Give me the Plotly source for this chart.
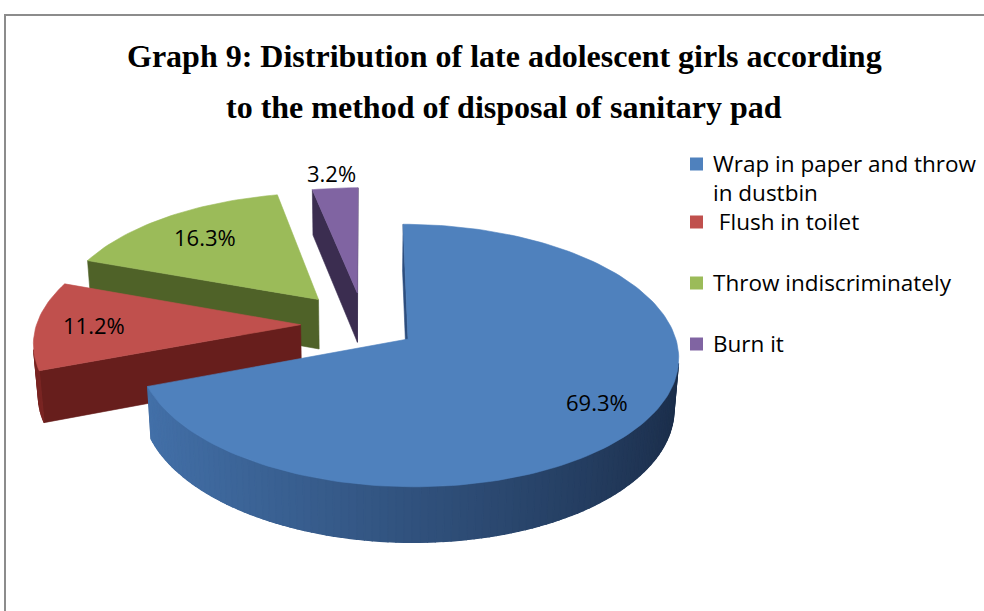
import numpy as np
import plotly.graph_objects as go

# ---- data ----
categories = ["Wrap in paper and throw in dustbin", "Flush in toilet",
              "Throw indiscriminately", "Burn it"]
legend_text = ["Wrap in paper and throw<br>in dustbin", "\u00a0Flush in toilet",
               "Throw indiscriminately", "Burn it"]
percent = [69.3, 11.2, 16.3, 3.2]

# ---- styles ----
top_colors = ["#4F81BD", "#C0504D", "#9BBB59", "#8064A2"]
side_light = ["#4472AB", "#7A2422", "#5A6F2E", "#4A3A60"]
side_dark = ["#1A2C48", "#561716", "#3E4D1F", "#2F2440"]
radial_colors = ["#2D4E7E", "#671E1C", "#4F6228", "#3B2D50"]
explode = [0.2, 0.24, 0.27, 0.26]      # pull-out, fraction of radius
label_r = [0.80, 0.78, 0.74, 1.17]     # label distance, fraction of radius

W, H = 984, 611
# 3D view of the pie (unit radius); projected into pixel space
CX, CY = 364.0, 324.5
FOCAL = 1872.0
DIST = 7.09
ELEV = np.radians(28.4)
THICK = 0.22
CA, SA = np.cos(ELEV), np.sin(ELEV)
CAM = np.array([0.0, -DIST * CA, DIST * SA])


def project(X, Y, Z):
    X, Y, Z = np.asarray(X, float), np.asarray(Y, float), np.asarray(Z, float)
    depth = DIST + Y * CA - Z * SA
    sy = Y * SA + Z * CA
    return CX + FOCAL * X / depth, CY - FOCAL * sy / depth


def depth_of(X, Y, Z):
    return DIST + Y * CA - Z * SA


def hex_rgb(h):
    h = h.lstrip("#")
    return np.array([int(h[i:i + 2], 16) for i in (0, 2, 4)], float)


def mix(c1, c2, t):
    a, b = hex_rgb(c1), hex_rgb(c2)
    c = a + (b - a) * t
    return "rgb(%d,%d,%d)" % tuple(np.clip(np.round(c), 0, 255))


def visible(normal, point):
    return float(np.dot(normal, CAM - point)) > 0


fig = go.Figure()


def poly(xs, ys, color, lw=0.6):
    fig.add_trace(go.Scatter(
        x=list(xs) + [xs[0]], y=list(ys) + [ys[0]], mode="lines",
        fill="toself", fillcolor=color, line=dict(color=color, width=lw),
        hoverinfo="skip", showlegend=False))


total = sum(percent)
angles = np.cumsum([0] + [p / total * 2 * np.pi for p in percent])

slices = []
for i, p in enumerate(percent):
    t0, t1 = angles[i], angles[i + 1]
    tm = (t0 + t1) / 2
    c = np.array([explode[i] * np.sin(tm), explode[i] * np.cos(tm), 0.0])
    slices.append((i, t0, t1, tm, c))

# paint back-to-front
slices.sort(key=lambda s: -depth_of(*s[4]))

for i, t0, t1, tm, c in slices:
    n = max(8, int(np.degrees(t1 - t0) / 1.5))
    th = np.linspace(t0, t1, n + 1)
    ax = c[0] + np.sin(th)
    ay = c[1] + np.cos(th)

    # radial side walls
    for t, sgn in ((t0, -1), (t1, 1)):
        normal = sgn * np.array([np.cos(t), -np.sin(t), 0.0])
        rim = c + np.array([np.sin(t), np.cos(t), 0.0])
        mid = (c + rim) / 2 - np.array([0, 0, THICK / 2])
        if visible(normal, mid):
            X = [c[0], rim[0], rim[0], c[0]]
            Y = [c[1], rim[1], rim[1], c[1]]
            Z = [0, 0, -THICK, -THICK]
            px, py = project(X, Y, Z)
            poly(px, py, radial_colors[i])

    # curved outer wall: one base band, then shaded strips on top
    vis = []
    for k in range(n):
        tmid = (th[k] + th[k + 1]) / 2
        normal = np.array([np.sin(tmid), np.cos(tmid), 0.0])
        pt = c + normal - np.array([0, 0, THICK / 2])
        if visible(normal, pt):
            vis.append((k, normal))
    if vis:
        ks = [k for k, _ in vis]
        idx = list(range(min(ks), max(ks) + 2))
        X = [ax[j] for j in idx] + [ax[j] for j in idx[::-1]]
        Y = [ay[j] for j in idx] + [ay[j] for j in idx[::-1]]
        Z = [0.0] * len(idx) + [-THICK] * len(idx)
        px, py = project(X, Y, Z)
        poly(px, py, mix(side_dark[i], side_light[i], 0.5), lw=0.5)
    vis.sort(key=lambda s: -depth_of(*(c + s[1])))
    for k, normal in vis:
        X = [ax[k], ax[k + 1], ax[k + 1], ax[k]]
        Y = [ay[k], ay[k + 1], ay[k + 1], ay[k]]
        Z = [0, 0, -THICK, -THICK]
        px, py = project(X, Y, Z)
        shade = ((1 - normal[0]) / 2) ** 0.9
        poly(px, py, mix(side_dark[i], side_light[i], shade), lw=1.2)

    # top face
    X = [c[0]] + list(ax)
    Y = [c[1]] + list(ay)
    px, py = project(X, Y, np.zeros(len(X)))
    poly(px, py, top_colors[i])

# value labels
annotations = []
for i, t0, t1, tm, c in slices:
    lx, ly = project(c[0] + label_r[i] * np.sin(tm), c[1] + label_r[i] * np.cos(tm), 0.0)
    annotations.append(dict(
        x=float(lx), y=float(ly), xref="x", yref="y", text=f"{percent[i]:.1f}%",
        showarrow=False, font=dict(family="Open Sans", size=22, color="black")))

# title
title_lines = ["Graph 9: Distribution of late adolescent girls according",
               "to the method of disposal of sanitary pad"]
for txt, yy in zip(title_lines, [56, 107]):
    annotations.append(dict(
        x=504, y=yy, xref="x", yref="y", text=f"<b>{txt}</b>", showarrow=False,
        font=dict(family="Liberation Serif", size=32, color="black")))

# legend
legend_y = [177.5, 221, 282, 343]
square_y = [164, 222, 283, 344]
shapes = []
for i in range(len(categories)):
    annotations.append(dict(
        x=711, y=legend_y[i], xref="x", yref="y", text=legend_text[i],
        showarrow=False, xanchor="left", yanchor="middle", align="left",
        font=dict(family="Open Sans", size=22.5, color="black")))
    shapes.append(dict(type="rect", xref="x", yref="y",
                       x0=690, x1=703, y0=square_y[i] - 6.5, y1=square_y[i] + 6.5,
                       fillcolor=top_colors[i], line=dict(width=0)))

# outer frame
shapes.append(dict(type="path", xref="x", yref="y",
                   path=f"M 5,{H} L 5,15 L {W},15",
                   line=dict(color="#8C8C8C", width=2)))

fig.update_layout(
    width=W, height=H, margin=dict(l=0, r=0, t=0, b=0),
    paper_bgcolor="white", plot_bgcolor="white",
    xaxis=dict(range=[0, W], visible=False, fixedrange=True),
    yaxis=dict(range=[H, 0], visible=False, fixedrange=True),
    annotations=annotations, shapes=shapes, showlegend=False,
)

fig.write_html("out.html")
